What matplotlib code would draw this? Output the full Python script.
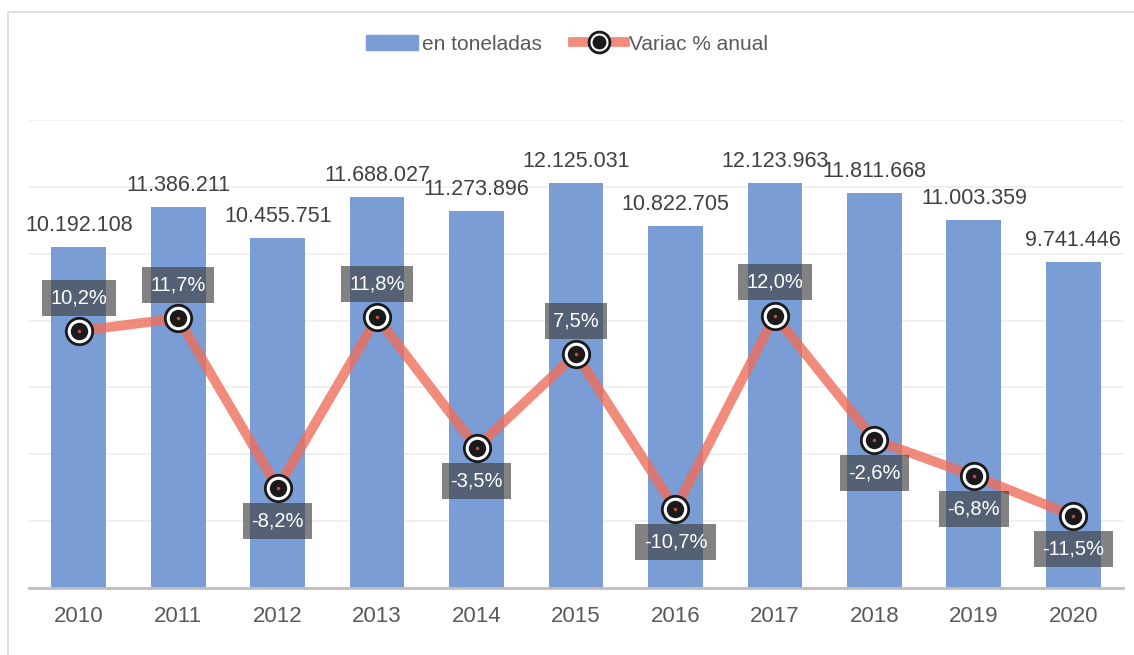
import matplotlib.pyplot as plt
from matplotlib.patches import Rectangle
from matplotlib.lines import Line2D
import numpy as np

plt.rcParams['font.family'] = ['Liberation Sans', 'DejaVu Sans']

# datos
anios = ['2010', '2011', '2012', '2013', '2014', '2015', '2016', '2017', '2018', '2019', '2020']
toneladas = [10192108, 11386211, 10455751, 11688027, 11273896, 12125031,
             10822705, 12123963, 11811668, 11003359, 9741446]
variacion = [10.2, 11.7, -8.2, 11.8, -3.5, 7.5, -10.7, 12.0, -2.6, -6.8, -11.5]


def fmt_miles(v):
    return f"{v:,}".replace(",", ".")


def fmt_pct(v):
    return f"{v:.1f}%".replace(".", ",")


fig = plt.figure(figsize=(11.34, 6.55), dpi=100)
ax = fig.add_axes([29 / 1134, 1 - 588 / 655, (1123 - 29) / 1134, (588 - 120) / 655])

# borde exterior
fig.patches.append(Rectangle((8 / 1134, -0.01), 1.02, 1 - 12 / 655 + 0.01,
                             transform=fig.transFigure, fill=False,
                             edgecolor='#D9D9D9', linewidth=1.2))

x = np.arange(len(anios))
ax.bar(x, toneladas, width=0.55, color='#7A9DD6', zorder=2, label='en toneladas')
ax.set_ylim(0, 14000000)
ax.set_xlim(-0.5, len(anios) - 0.5)
ax.set_yticks(np.arange(0, 14000001, 2000000))
ax.yaxis.grid(True, color='#EDEDED', linewidth=1.2, zorder=0)
ax.set_xticks(x)
ax.set_xticklabels(anios, fontsize=16, color='#595959')
ax.tick_params(axis='x', length=0, pad=13)
for s in ['top', 'right', 'left']:
    ax.spines[s].set_visible(False)
ax.spines['bottom'].set_color('#BFBFBF')
ax.spines['bottom'].set_linewidth(2)

for xi, v in zip(x, toneladas):
    ax.annotate(fmt_miles(v), (xi, v), xytext=(0, 8), textcoords='offset points',
                ha='center', va='bottom', fontsize=15.5, color='#404040')

ax2 = ax.twinx()
ax.tick_params(axis='y', left=False, right=False, labelleft=False)
ax2.set_ylim(-20, 35)
ax2.axis('off')
ax2.plot(x, variacion, color='#EE6E5A', alpha=0.8, linewidth=7,
         solid_capstyle='round', zorder=3)
ax2.plot(x, variacion, linestyle='none', marker='o', markersize=19,
         markerfacecolor='white', markeredgecolor='#1A1A1A', markeredgewidth=2, zorder=4)
ax2.plot(x, variacion, linestyle='none', marker='o', markersize=11.5,
         markerfacecolor='#1A1A1A', markeredgecolor='#1A1A1A', zorder=5)
ax2.plot(x, variacion, linestyle='none', marker='o', markersize=1.5,
         color='#C0504D', zorder=6)

for xi, v in zip(x, variacion):
    off = 24 if v > 0 else -24
    ax2.annotate(fmt_pct(v), (xi, v), xytext=(0, off), textcoords='offset points',
                 ha='center', va='center', fontsize=14.5, color='white', zorder=7,
                 bbox=dict(boxstyle='square,pad=0.42', facecolor='#404040',
                           edgecolor='none', alpha=0.65))

# leyenda
h_barra = Rectangle((0, 0), 1, 1, color='#7A9DD6')
h_linea = (Line2D([], [], color='#EE6E5A', alpha=0.8, linewidth=7),
           Line2D([], [], linestyle='none', marker='o', markersize=15,
                  markerfacecolor='white', markeredgecolor='#1A1A1A', markeredgewidth=2),
           Line2D([], [], linestyle='none', marker='o', markersize=9, color='#1A1A1A'))
fig.legend([h_barra, h_linea], ['en toneladas', 'Variac % anual'],
           loc='center', bbox_to_anchor=(0.5, 1 - 44 / 655), ncol=2, frameon=False,
           fontsize=15, labelcolor='#595959', handlelength=2.5, handletextpad=0.2,
           columnspacing=1.45)

fig.savefig('out.png', dpi=100)
